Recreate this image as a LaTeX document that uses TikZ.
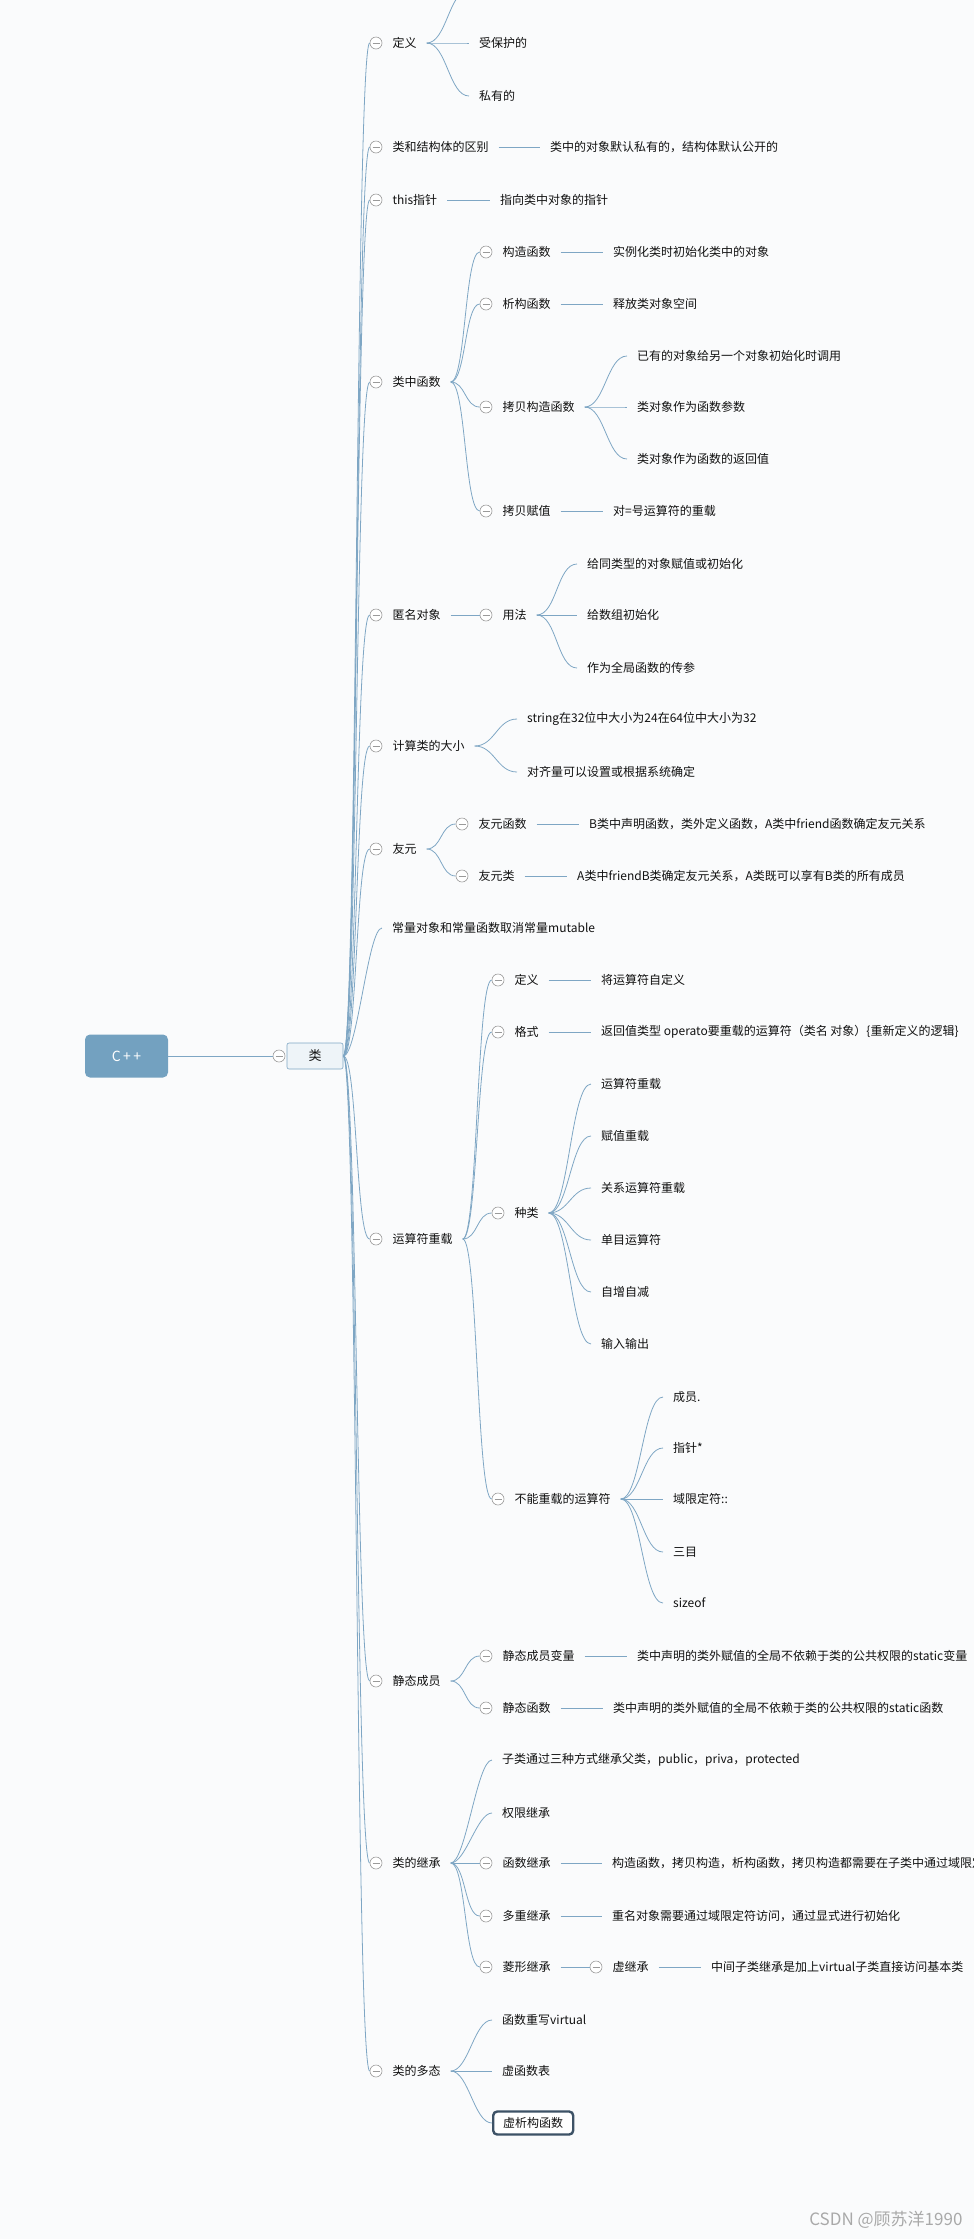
\documentclass[tikz,border=0pt]{standalone}
\usepackage{fontspec}
\setmainfont{Noto Sans CJK SC}
\usetikzlibrary{positioning}
\definecolor{mmbg}{HTML}{FAFBFC}
\definecolor{mmline}{HTML}{7EA6C4}
\definecolor{mmroot}{HTML}{73A1C0}
\definecolor{mmsub}{HTML}{EEF4F8}
\definecolor{mmfold}{HTML}{9A9A9A}
\definecolor{mmink}{HTML}{111111}
\definecolor{mmdark}{HTML}{3D5266}
\definecolor{mmmark}{HTML}{A9A9A9}

\begin{document}
\begin{tikzpicture}[
    x=1pt, y=-1pt,
    font=\fontsize{12}{14}\selectfont,
    rootbox/.style={
        rounded corners=5pt,
        fill=mmroot,
        minimum width=83pt,
        minimum height=43pt,
        font=\fontsize{14}{16}\selectfont,
        text=white
    },
    subbox/.style={
        rounded corners=2pt,
        draw=mmline,
        fill=mmsub,
        line width=0.6pt,
        minimum width=56pt,
        minimum height=26pt,
        font=\fontsize{13}{15}\selectfont,
        text=mmink
    },
    topic/.style={
        anchor=west,
        inner xsep=10pt,
        inner ysep=2pt,
        text=mmink
    },
    fold/.style={
        circle,
        draw=mmfold,
        fill=white,
        line width=0.6pt,
        minimum size=12pt,
        inner sep=0pt,
        path picture={
            \draw[mmfold, line width=0.6pt]
                ([xshift=-3.5pt]path picture bounding box.center) --
                ([xshift=3.5pt]path picture bounding box.center);
        }
    },
    focus/.style={
        topic,
        draw=mmdark,
        line width=2.4pt,
        rounded corners=4pt,
        fill=white,
        minimum height=23pt
    },
    link/.style={
        draw=mmline,
        line width=0.8pt
    },
    fan/.style={
        out=0,
        in=180,
        distance=#1
    }
]

\useasboundingbox (0,0) rectangle (974,2239);
\fill[mmbg] (0,0) rectangle (974,2239);
\clip (0,0) rectangle (974,2239);

\node[rootbox] (cpp) at (126.5,1056) {C\,+\,+};
\node[fold] (c-lei) at (279,1056) {};
\node[subbox] (lei) at (315,1056) {类};
\draw[link] (cpp.east) -- (c-lei.west);

% first level
\node[fold] (c-dy) at (376,43) {};
\node[topic, right=0pt of c-dy] (dy) {定义};
\node[fold] (c-qb) at (376,147) {};
\node[topic, right=0pt of c-qb] (qb) {类和结构体的区别};
\node[fold] (c-tp) at (376,200) {};
\node[topic, right=0pt of c-tp] (tp) {this指针};
\node[fold] (c-hs) at (376,382) {};
\node[topic, right=0pt of c-hs] (hs) {类中函数};
\node[fold] (c-nm) at (376,615) {};
\node[topic, right=0pt of c-nm] (nm) {匿名对象};
\node[fold] (c-dx) at (376,746) {};
\node[topic, right=0pt of c-dx] (dx) {计算类的大小};
\node[fold] (c-yy) at (376,849) {};
\node[topic, right=0pt of c-yy] (yy) {友元};
\node[topic] (cl) at (382,928) {常量对象和常量函数取消常量mutable};
\node[fold] (c-ys) at (376,1239) {};
\node[topic, right=0pt of c-ys] (ys) {运算符重载};
\node[fold] (c-jt) at (376,1681) {};
\node[topic, right=0pt of c-jt] (jt) {静态成员};
\node[fold] (c-jc) at (376,1863) {};
\node[topic, right=0pt of c-jc] (jc) {类的继承};
\node[fold] (c-dt) at (376,2071) {};
\node[topic, right=0pt of c-dt] (dt) {类的多态};

\foreach \k in {dy,qb,tp,hs,nm,dx,yy,ys,jt,jc,dt}
    \draw[link] (lei.east) to[fan=14pt] (c-\k.west);
\draw[link] (lei.east) to[fan=14pt] (cl.west);

% 定义
\coordinate (dy0) at (469,-10);
\node[topic] (dy2) at (469,43) {受保护的};
\node[topic] (dy3) at (469,96) {私有的};
\draw[link] (dy.east) to[fan=20pt] (dy0);
\foreach \k in {dy2,dy3}
    \draw[link] (dy.east) to[fan=20pt] (\k.west);

% 区别, this
\node[topic] (qb1) at (540,147) {类中的对象默认私有的，结构体默认公开的};
\draw[link] (qb.east) -- (qb1.west);
\node[topic] (tp1) at (490,200) {指向类中对象的指针};
\draw[link] (tp.east) -- (tp1.west);

% 类中函数
\node[fold] (c-hs1) at (486,252) {};
\node[topic, right=0pt of c-hs1] (hs1) {构造函数};
\node[fold] (c-hs2) at (486,304) {};
\node[topic, right=0pt of c-hs2] (hs2) {析构函数};
\node[fold] (c-hs3) at (486,407) {};
\node[topic, right=0pt of c-hs3] (hs3) {拷贝构造函数};
\node[fold] (c-hs4) at (486,511) {};
\node[topic, right=0pt of c-hs4] (hs4) {拷贝赋值};
\foreach \k in {hs1,hs2,hs3,hs4}
    \draw[link] (hs.east) to[fan=15pt] (c-\k.west);

\node[topic] (hs1a) at (603,252) {实例化类时初始化类中的对象};
\draw[link] (hs1.east) -- (hs1a.west);
\node[topic] (hs2a) at (603,304) {释放类对象空间};
\draw[link] (hs2.east) -- (hs2a.west);
\node[topic] (hs3a) at (627,356) {已有的对象给另一个对象初始化时调用};
\node[topic] (hs3b) at (627,407) {类对象作为函数参数};
\node[topic] (hs3c) at (627,459) {类对象作为函数的返回值};
\foreach \k in {hs3a,hs3b,hs3c}
    \draw[link] (hs3.east) to[fan=20pt] (\k.west);
\node[topic] (hs4a) at (603,511) {对=号运算符的重载};
\draw[link] (hs4.east) -- (hs4a.west);

% 匿名对象
\node[fold] (c-nm1) at (486,615) {};
\node[topic, right=0pt of c-nm1] (nm1) {用法};
\draw[link] (nm.east) -- (c-nm1.west);
\node[topic] (nm1a) at (577,564) {给同类型的对象赋值或初始化};
\node[topic] (nm1b) at (577,615) {给数组初始化};
\node[topic] (nm1c) at (577,668) {作为全局函数的传参};
\foreach \k in {nm1a,nm1b,nm1c}
    \draw[link] (nm1.east) to[fan=20pt] (\k.west);

% 计算类的大小
\node[topic] (dx1) at (517,719) {string在32位中大小为24在64位中大小为32};
\node[topic] (dx2) at (517,772) {对齐量可以设置或根据系统确定};
\foreach \k in {dx1,dx2}
    \draw[link] (dx.east) to[fan=20pt] (\k.west);

% 友元
\node[fold] (c-yy1) at (462,824) {};
\node[topic, right=0pt of c-yy1] (yy1) {友元函数};
\node[fold] (c-yy2) at (462,876) {};
\node[topic, right=0pt of c-yy2] (yy2) {友元类};
\foreach \k in {yy1,yy2}
    \draw[link] (yy.east) to[fan=15pt] (c-\k.west);
\node[topic] (yy1a) at (579,824) {B类中声明函数，类外定义函数，A类中friend函数确定友元关系};
\draw[link] (yy1.east) -- (yy1a.west);
\node[topic] (yy2a) at (567,876) {A类中friendB类确定友元关系，A类既可以享有B类的所有成员};
\draw[link] (yy2.east) -- (yy2a.west);

% 运算符重载
\node[fold] (c-ys1) at (498,980) {};
\node[topic, right=0pt of c-ys1] (ys1) {定义};
\node[fold] (c-ys2) at (498,1032) {};
\node[topic, right=0pt of c-ys2] (ys2) {格式};
\node[fold] (c-ys3) at (498,1213) {};
\node[topic, right=0pt of c-ys3] (ys3) {种类};
\node[fold] (c-ys4) at (498,1499) {};
\node[topic, right=0pt of c-ys4] (ys4) {不能重载的运算符};
\foreach \k in {ys1,ys2,ys3,ys4}
    \draw[link] (ys.east) to[fan=15pt] (c-\k.west);

\node[topic] (ys1a) at (591,980) {将运算符自定义};
\draw[link] (ys1.east) -- (ys1a.west);
\node[topic] (ys2a) at (591,1032) {返回值类型 operato要重载的运算符（类名 对象）\{重新定义的逻辑\}};
\draw[link] (ys2.east) -- (ys2a.west);

\node[topic] (ys3a) at (591,1084) {运算符重载};
\node[topic] (ys3b) at (591,1136) {赋值重载};
\node[topic] (ys3c) at (591,1188) {关系运算符重载};
\node[topic] (ys3d) at (591,1240) {单目运算符};
\node[topic] (ys3e) at (591,1292) {自增自减};
\node[topic] (ys3f) at (591,1344) {输入输出};
\foreach \k in {ys3a,ys3b,ys3c,ys3d,ys3e,ys3f}
    \draw[link] (ys3.east) to[fan=20pt] (\k.west);

\node[topic] (ys4a) at (663,1397) {成员.};
\node[topic] (ys4b) at (663,1448) {指针*};
\node[topic] (ys4c) at (663,1499) {域限定符::};
\node[topic] (ys4d) at (663,1552) {三目};
\node[topic] (ys4e) at (663,1603) {sizeof};
\foreach \k in {ys4a,ys4b,ys4c,ys4d,ys4e}
    \draw[link] (ys4.east) to[fan=20pt] (\k.west);

% 静态成员
\node[fold] (c-jt1) at (486,1656) {};
\node[topic, right=0pt of c-jt1] (jt1) {静态成员变量};
\node[fold] (c-jt2) at (486,1708) {};
\node[topic, right=0pt of c-jt2] (jt2) {静态函数};
\foreach \k in {jt1,jt2}
    \draw[link] (jt.east) to[fan=15pt] (c-\k.west);
\node[topic] (jt1a) at (627,1656) {类中声明的类外赋值的全局不依赖于类的公共权限的static变量};
\draw[link] (jt1.east) -- (jt1a.west);
\node[topic] (jt2a) at (603,1708) {类中声明的类外赋值的全局不依赖于类的公共权限的static函数};
\draw[link] (jt2.east) -- (jt2a.west);

% 类的继承
\node[topic] (jc1) at (492,1760) {子类通过三种方式继承父类，public，priva，protected};
\node[topic] (jc2) at (492,1813) {权限继承};
\node[fold] (c-jc3) at (486,1863) {};
\node[topic, right=0pt of c-jc3] (jc3) {函数继承};
\node[fold] (c-jc4) at (486,1916) {};
\node[topic, right=0pt of c-jc4] (jc4) {多重继承};
\node[fold] (c-jc5) at (486,1967) {};
\node[topic, right=0pt of c-jc5] (jc5) {菱形继承};
\foreach \k in {jc1,jc2}
    \draw[link] (jc.east) to[fan=15pt] (\k.west);
\foreach \k in {jc3,jc4,jc5}
    \draw[link] (jc.east) to[fan=15pt] (c-\k.west);

\node[topic] (jc3a) at (602,1863) {构造函数，拷贝构造，析构函数，拷贝构造都需要在子类中通过域限定符};
\draw[link] (jc3.east) -- (jc3a.west);
\node[topic] (jc4a) at (602,1916) {重名对象需要通过域限定符访问，通过显式进行初始化};
\draw[link] (jc4.east) -- (jc4a.west);
\node[fold] (c-jc5a) at (596,1967) {};
\node[topic, right=0pt of c-jc5a] (jc5a) {虚继承};
\draw[link] (jc5.east) -- (c-jc5a.west);
\node[topic] (jc5b) at (701,1967) {中间子类继承是加上virtual子类直接访问基本类};
\draw[link] (jc5a.east) -- (jc5b.west);

% 类的多态
\node[topic] (dt1) at (492,2020) {函数重写virtual};
\node[topic] (dt2) at (492,2071) {虚函数表};
\node[focus] (dt3) at (492,2123) {虚析构函数};
\foreach \k in {dt1,dt2,dt3}
    \draw[link] (dt.east) to[fan=18pt] (\k.west);

\node[anchor=east, font=\fontsize{17}{19}\selectfont, text=mmmark] (mark) at (966,2220) {CSDN @顾苏洋1990};

\end{tikzpicture}
\end{document}
